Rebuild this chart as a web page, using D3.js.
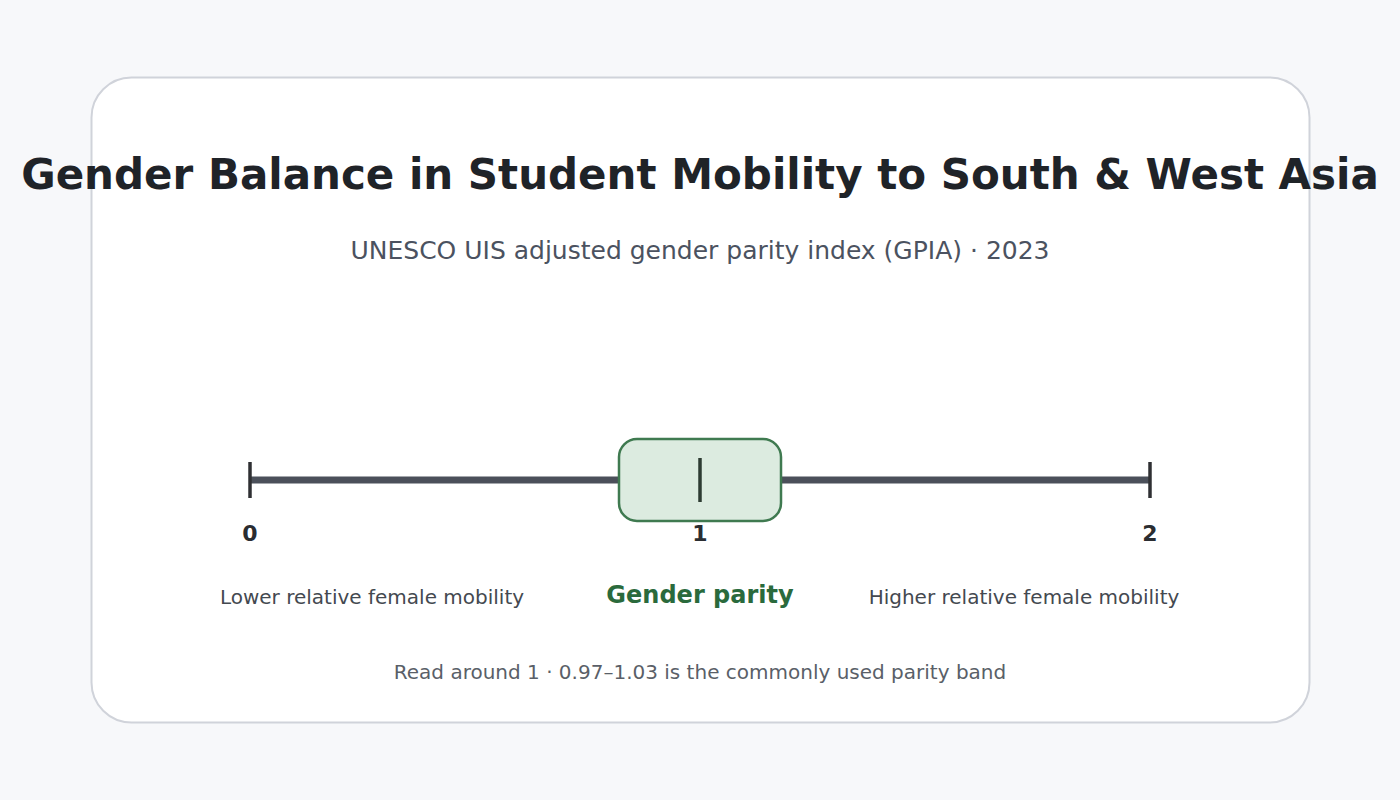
<!DOCTYPE html>
<html><head><meta charset="utf-8">
<script src="https://cdn.jsdelivr.net/npm/d3@7"></script>
<style>body{margin:0;background:#f7f8fa;font-family:"DejaVu Sans",sans-serif}</style>
</head><body><svg id="c" width="1400" height="800"></svg>
<script>
const domain = [0, 2];
const tickValues = [0, 1, 2];
const gpiaValue = [1.0];
const boxRange = [0.82, 1.18];
const sideLabels = ["Lower relative female mobility", "Gender parity", "Higher relative female mobility"];
const title = "Gender Balance in Student Mobility to South & West Asia";
const subtitle = "UNESCO UIS adjusted gender parity index (GPIA) · 2023";
const footnote = "Read around 1 · 0.97–1.03 is the commonly used parity band";

const svg = d3.select("#c");
svg.append("rect").attr("width",1400).attr("height",800).attr("fill","#f7f8fa");
svg.append("rect").attr("x",91.5).attr("y",77.5).attr("width",1218).attr("height",645).attr("rx",40)
  .attr("fill","#fff").attr("stroke","#d0d3da").attr("stroke-width",2);
svg.append("text").attr("x",700).attr("y",189).attr("text-anchor","middle").attr("font-size",42)
  .attr("font-weight","bold").attr("fill","#1f2328").text(title);
svg.append("text").attr("x",700).attr("y",259).attr("text-anchor","middle").attr("font-size",25)
  .attr("fill","#4b5260").text(subtitle);

const x = d3.scaleLinear().domain(domain).range([250,1150]);
const cy = 480;
svg.append("line").attr("x1",x(domain[0])).attr("x2",x(domain[1])).attr("y1",cy).attr("y2",cy)
  .attr("stroke","#4b505a").attr("stroke-width",7);
svg.selectAll(".end").data([domain[0],domain[1]]).join("line")
  .attr("x1",d=>x(d)).attr("x2",d=>x(d)).attr("y1",cy-18).attr("y2",cy+18)
  .attr("stroke","#2f3033").attr("stroke-width",3.5);
svg.append("rect").attr("x",x(boxRange[0])).attr("y",cy-41).attr("width",x(boxRange[1])-x(boxRange[0]))
  .attr("height",82).attr("rx",18).attr("fill","#dcebe0").attr("stroke","#3f7a50").attr("stroke-width",2.5);
svg.selectAll(".mk").data(gpiaValue).join("line")
  .attr("x1",d=>x(d)).attr("x2",d=>x(d)).attr("y1",cy-22).attr("y2",cy+22)
  .attr("stroke","#2d3b32").attr("stroke-width",3.5);
svg.selectAll(".tk").data(tickValues).join("text")
  .attr("x",d=>x(d)).attr("y",541).attr("text-anchor","middle").attr("font-size",22)
  .attr("font-weight","bold").attr("fill","#2a2d31").text(d=>d);
const lx=[372,700,1024];
svg.selectAll(".sl").data(sideLabels).join("text")
  .attr("x",(d,i)=>lx[i]).attr("y",(d,i)=>i==1?603:604).attr("text-anchor","middle")
  .attr("font-size",(d,i)=>i==1?24:20).attr("font-weight",(d,i)=>i==1?"bold":"normal")
  .attr("fill",(d,i)=>i==1?"#2a6a3c":"#444950").text(d=>d);
svg.append("text").attr("x",700).attr("y",679).attr("text-anchor","middle").attr("font-size",20)
  .attr("fill","#5a5f68").text(footnote);
</script></body></html>
